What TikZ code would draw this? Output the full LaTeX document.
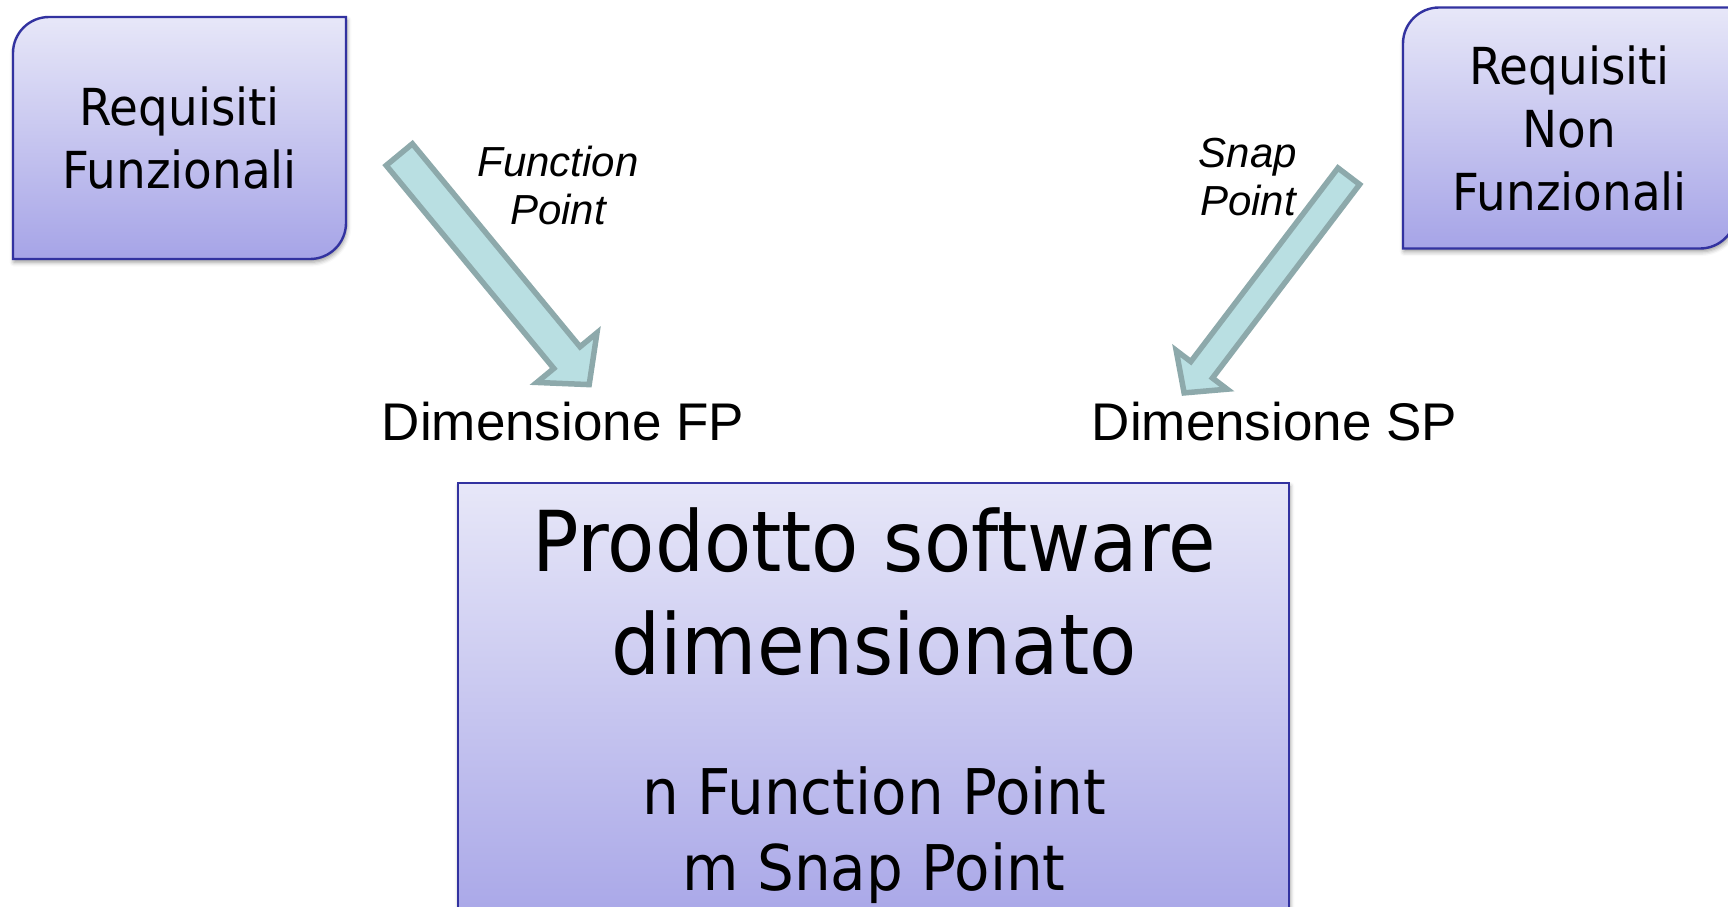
\documentclass[tikz,border=0pt]{standalone}
\usepackage{fontspec}
\setmainfont{Liberation Sans}
\newfontfamily\boxfont[FakeStretch=0.92]{DejaVu Sans}
\usetikzlibrary{calc,shadows.blur}

\definecolor{boxtop}{RGB}{231,231,248}
\definecolor{boxbot}{RGB}{166,164,231}
\definecolor{boxline}{RGB}{50,50,160}
\definecolor{arrowfill}{RGB}{185,223,226}
\definecolor{arrowline}{RGB}{141,169,171}

\pgfdeclarelayer{bg}
\pgfsetlayers{bg,main}

% thick block arrow from #1 (tail) to #2 (tip):
% #3 half shaft width, #4 half head width, #5 head length
\newcommand\drawblockarrow[5]{%
  \coordinate (#1-base) at ($(#2)!#5!(#1)$);
  \draw[fatarrow]
    ($(#1)!#3!90:(#2)$) -- ($(#1-base)!#3!90:(#2)$)
    -- ($(#1-base)!#4!90:(#2)$) -- (#2)
    -- ($(#1-base)!#4!-90:(#2)$) -- ($(#1-base)!#3!-90:(#2)$)
    -- ($(#1)!#3!-90:(#2)$) -- cycle;}

\begin{document}
\begin{tikzpicture}[x=0.5pt,y=-0.5pt,
  reqbox/.style={inner sep=0pt, outer sep=0pt, minimum width=166.5pt,
    minimum height=121pt, align=center,
    font={\boxfont\fontsize{25.5}{31.5}\selectfont}},
  boxoutline/.style={draw=boxline, line width=1.2pt, top color=boxtop,
    bottom color=boxbot,
    blur shadow={shadow xshift=0.5pt, shadow yshift=-1.6pt,
      shadow blur radius=2.2pt, shadow opacity=40}},
  fatarrow/.style={fill=arrowfill, draw=arrowline, line width=2.75pt,
    line join=miter},
  dimlabel/.style={inner sep=0pt, font={\fontsize{26.5}{32}\selectfont}},
  metric/.style={inner sep=0pt, align=center,
    font={\itshape\fontsize{21}{24}\selectfont}},
  prodtitle/.style={inner sep=0pt, align=center,
    font={\boxfont\fontsize{42}{51.5}\selectfont}},
  prodpoints/.style={inner sep=0pt, align=center,
    font={\boxfont\fontsize{31.5}{38}\selectfont}}]
\useasboundingbox (0,0) rectangle (1728,906);
\clip (0,0) rectangle (1728,906);

% requirement boxes
\node[reqbox] (fr) at (179.5,138) {Requisiti\\Funzionali};
\node[reqbox, minimum height=120.5pt] (nfr) at (1569.5,128) {Requisiti\\Non\\Funzionali};
\node[inner sep=0pt, outer sep=0pt, minimum width=415.5pt, minimum height=228.5pt] (prod) at (873.5,711.5) {};

\begin{pgfonlayer}{bg}
  \draw[boxoutline] ($(fr.north west)+(0,36)$) -- (fr.south west)
    -- ($(fr.south east)+(-36,0)$) arc[start angle=90, end angle=0, radius=36]
    -- (fr.north east) -- ($(fr.north west)+(36,0)$)
    arc[start angle=270, end angle=180, radius=36] -- cycle;
  \draw[boxoutline] ($(nfr.north west)+(0,36)$) -- (nfr.south west)
    -- ($(nfr.south east)+(-36,0)$) arc[start angle=90, end angle=0, radius=36]
    -- (nfr.north east) -- ($(nfr.north west)+(36,0)$)
    arc[start angle=270, end angle=180, radius=36] -- cycle;
  \draw[boxoutline] (prod.north west) rectangle (prod.south east);
\end{pgfonlayer}

% measurement arrows
\coordinate (fpTail) at (399.3,154.6);
\coordinate (fpTip) at (589.2,384.6);
\drawblockarrow{fpTail}{fpTip}{8.5pt}{19.5pt}{17.5pt}
\coordinate (spTail) at (1348.8,176.2);
\coordinate (spTip) at (1184.1,392.9);
\drawblockarrow{spTail}{spTip}{6.8pt}{16pt}{14.5pt}

% labels
\node[metric] (fplabel) at (558,185) {Function\\Point};
\node[metric] (splabel) at (1248,177) {Snap\\Point};
\node[dimlabel] (dimfp) at (563,422) {Dimensione FP};
\node[dimlabel] (dimsp) at (1274.5,422) {Dimensione SP};

% product box text
\node[prodtitle] (ptitle) at (874,592) {Prodotto software\\dimensionato};
\node[prodpoints] (ppoints) at (874,835) {n Function Point\\m Snap Point};
\end{tikzpicture}
\end{document}
